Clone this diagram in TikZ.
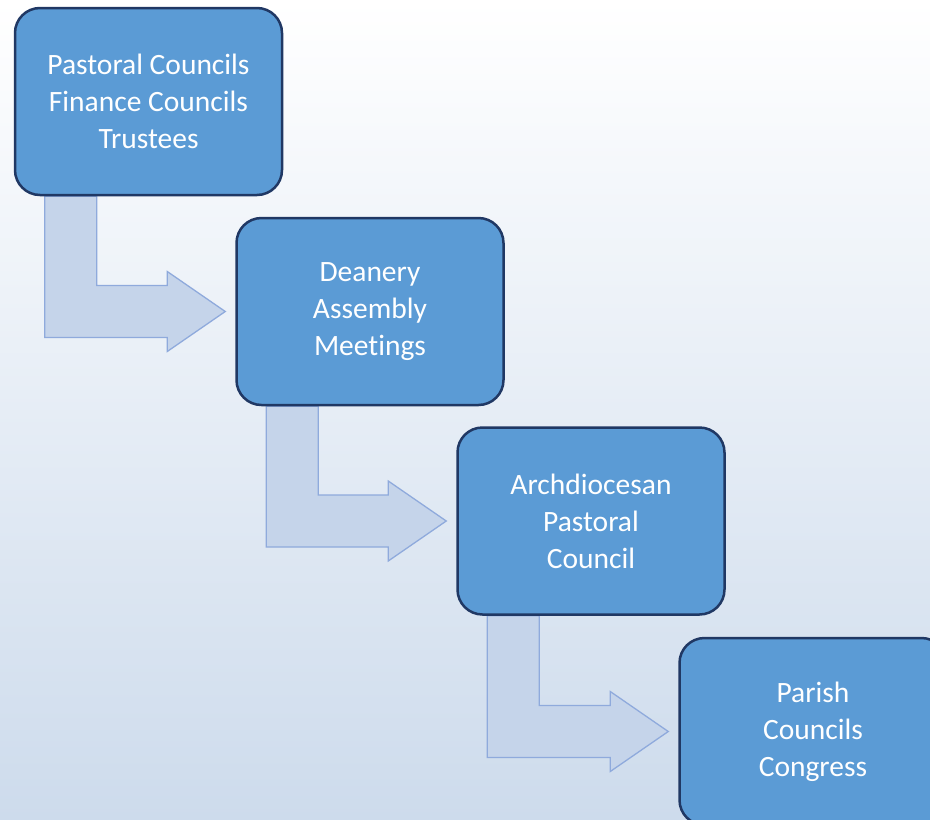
\documentclass[tikz,border=0pt]{standalone}
\usepackage{fontspec}
\setmainfont{Carlito}[RawFeature={-liga;-clig;-dlig;-calt}]
\usetikzlibrary{calc}
\definecolor{boxfill}{RGB}{91,155,213}
\definecolor{boxline}{RGB}{32,56,100}
\definecolor{arrfill}{RGB}{197,212,234}
\definecolor{arrline}{RGB}{143,170,220}
\definecolor{bgblue}{RGB}{205,219,236}
\pgfdeclarelayer{back}
\pgfdeclarelayer{mid}
\pgfsetlayers{back,mid,main}

% bent arrow from the bottom of one box to the left side of the next
\newcommand\bentarrow[2]{%
  \draw[bent] let \p1=(#1.south west), \p2=(#2.west) in
    (\x1+31pt,\y1) -- (\x1+83pt,\y1) -- (\x1+83pt,\y2+26pt)
    -- (\x2-68pt,\y2+26pt) -- (\x2-68pt,\y2+40pt) -- (\x2-10pt,\y2)
    -- (\x2-68pt,\y2-40pt) -- (\x2-68pt,\y2-26pt) -- (\x1+31pt,\y2-26pt) -- cycle;}

\begin{document}
\begin{tikzpicture}[
  x=1pt,
  y=-1pt,
  box/.style={draw=boxline, line width=2.5pt, fill=boxfill, rounded corners=25pt,
    minimum width=267pt, minimum height=187pt, align=center, text=white,
    font=\fontsize{29.5}{37}\selectfont},
  bent/.style={draw=arrline, line width=1.3pt, fill=arrfill, line join=miter}
]
\useasboundingbox (0,0) rectangle (930,820);
\clip (0,0) rectangle (930,820);

% Hintergrund
\begin{pgfonlayer}{back}
  \shade[top color=white, bottom color=bgblue] (0,0) rectangle (930,820);
\end{pgfonlayer}

% Kästen
\node[box] (pastoral) at (148.5,101.5) {Pastoral Councils\\Finance Councils\\Trustees};
\node[box] (deanery) at (370,311.5) {Deanery\\Assembly\\Meetings};
\node[box] (archdio) at (591,521) {Archdiocesan\\Pastoral\\Council};
\node[box] (parish) at (813,731.5) {Parish\\Councils\\Congress};

% Pfeile
\begin{pgfonlayer}{mid}
  \bentarrow{pastoral}{deanery}
  \bentarrow{deanery}{archdio}
  \bentarrow{archdio}{parish}
\end{pgfonlayer}

\end{tikzpicture}
\end{document}
